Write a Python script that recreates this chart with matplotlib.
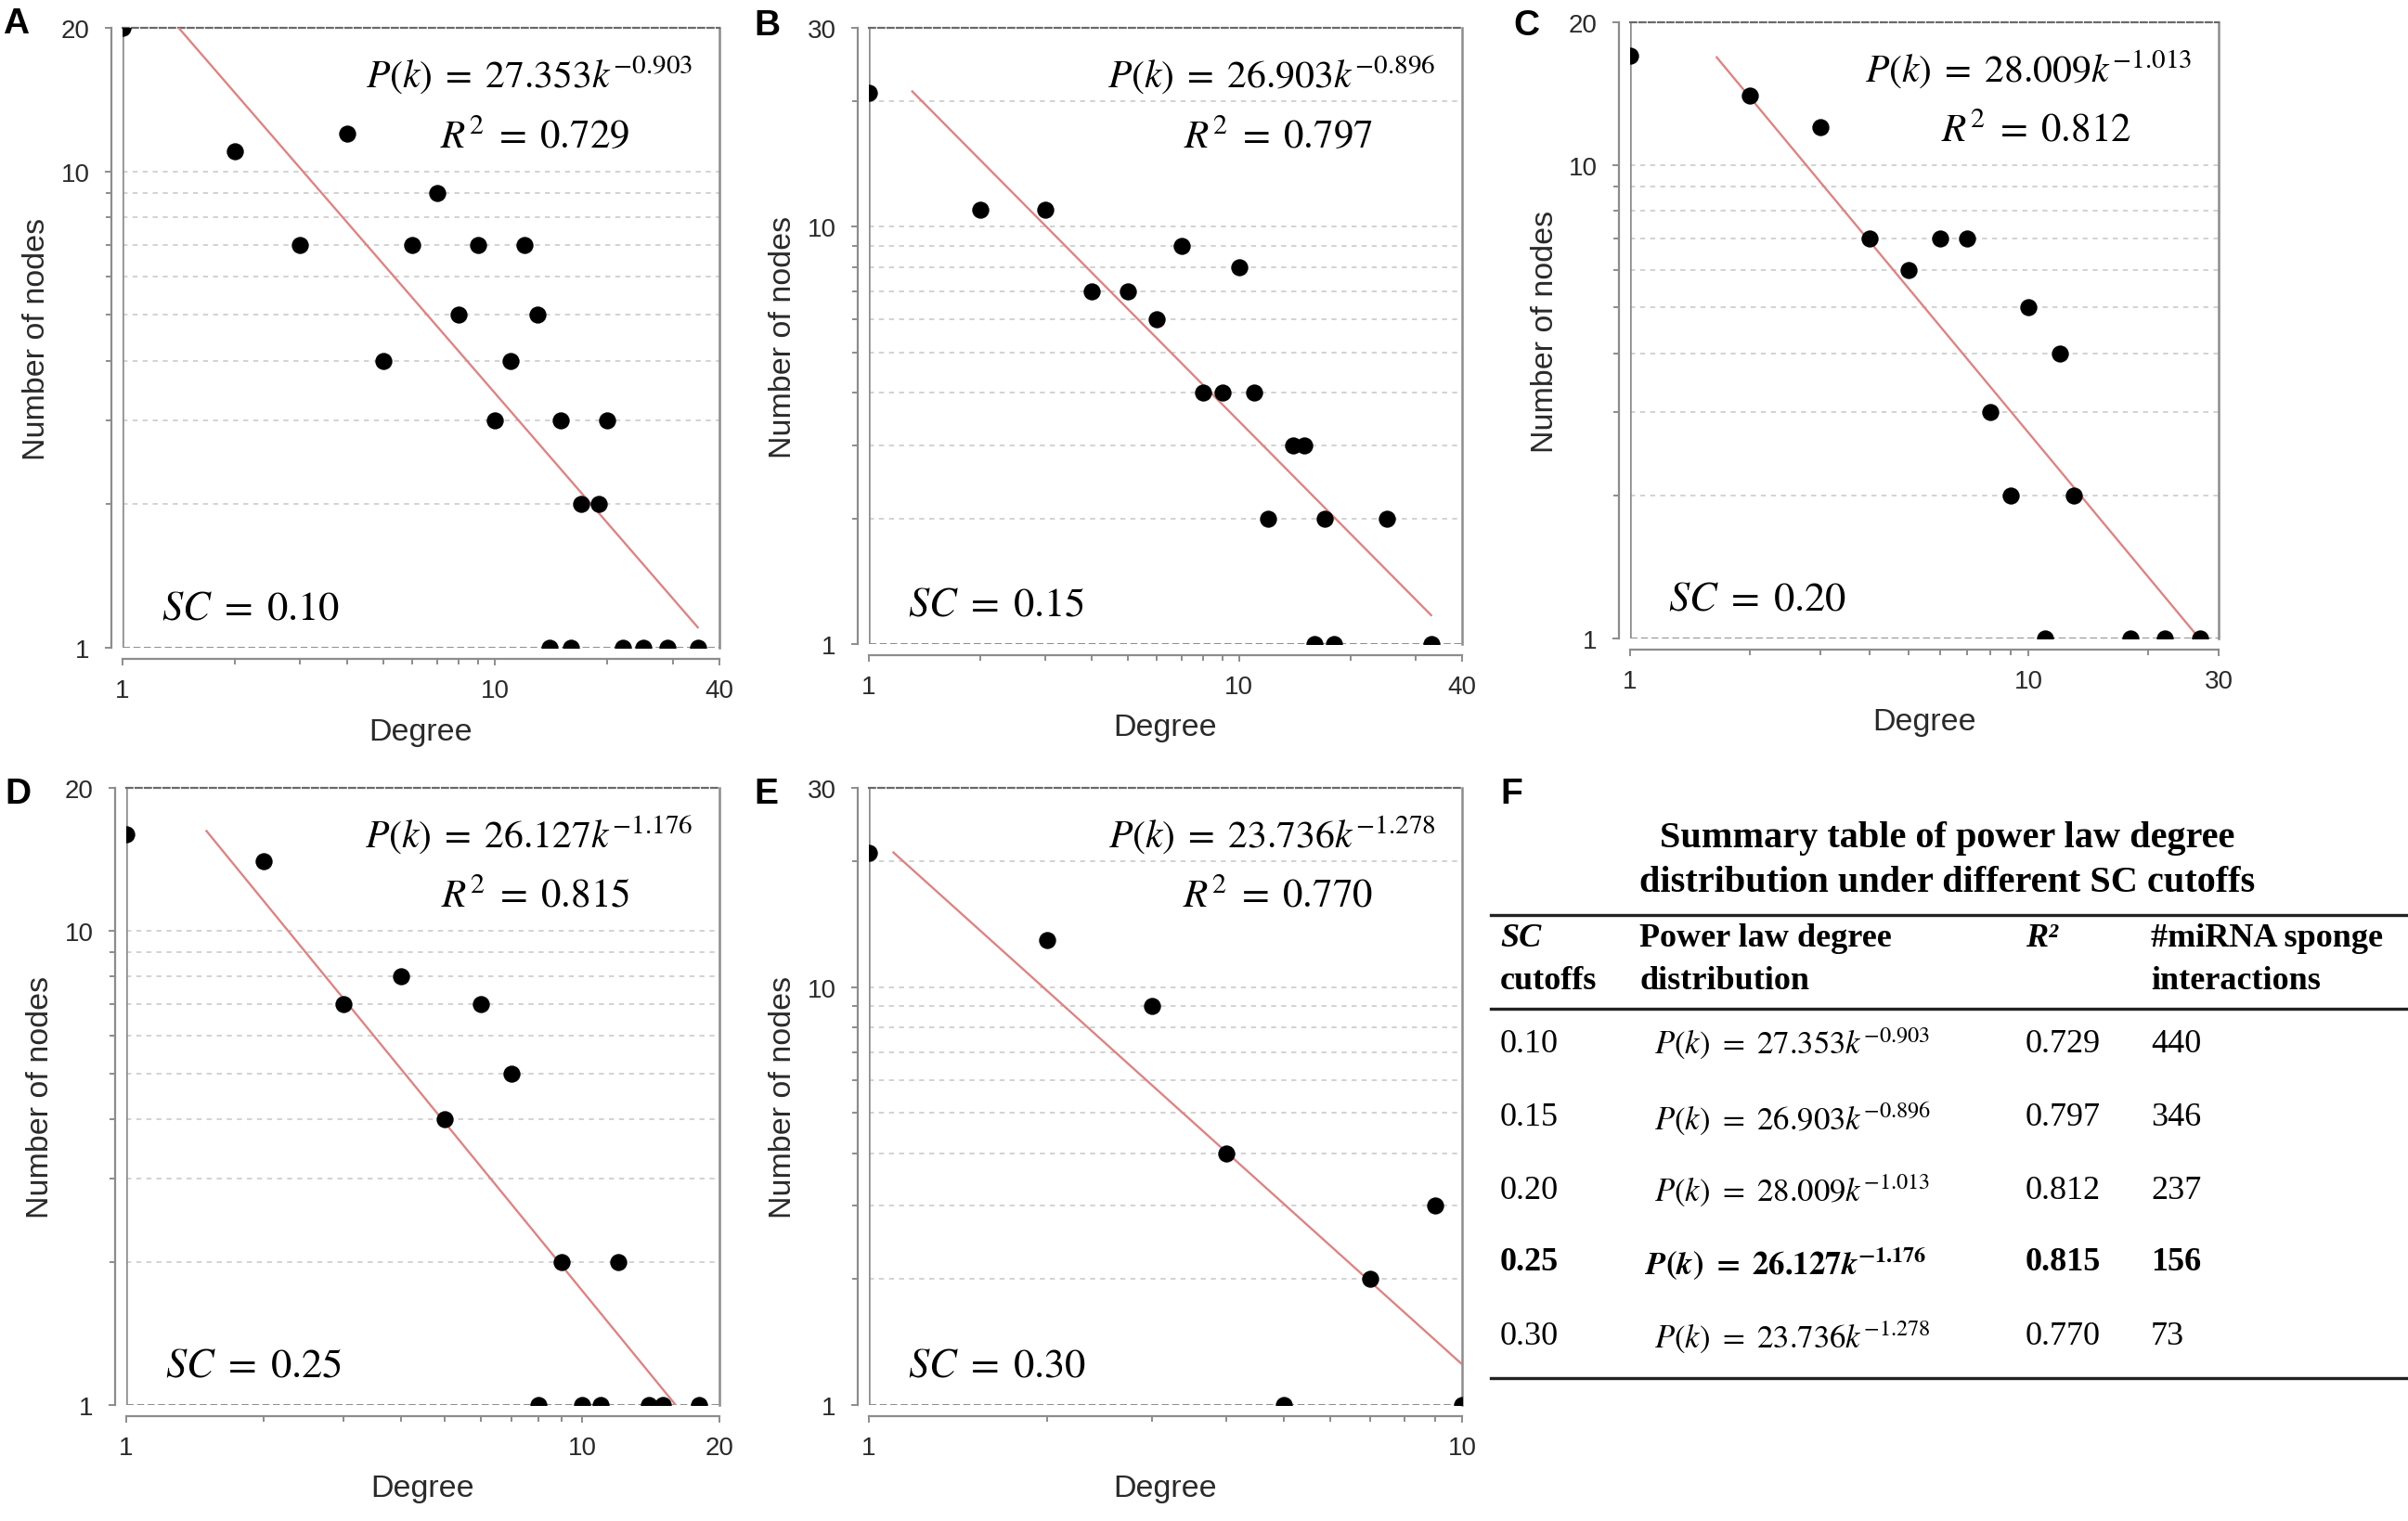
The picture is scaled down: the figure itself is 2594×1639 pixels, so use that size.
import numpy as np
import matplotlib
matplotlib.use('Agg')
import matplotlib.pyplot as plt
from matplotlib.ticker import FixedLocator, NullFormatter
from matplotlib.lines import Line2D

plt.rcParams['font.family'] = ['Liberation Sans', 'DejaVu Sans']
plt.rcParams['mathtext.fontset'] = 'stix'

W, H = 2594, 1640

# degree distributions for each SC cutoff
sc_labels = ['0.10', '0.15', '0.20', '0.25', '0.30']
deg_A = [1, 2, 3, 4, 5, 6, 7, 8, 9, 10, 11, 12, 13, 14, 15, 16, 17, 19, 20, 22, 25, 29, 35]
cnt_A = [20, 11, 7, 12, 4, 7, 9, 5, 7, 3, 4, 7, 5, 1, 3, 1, 2, 2, 3, 1, 1, 1, 1]
deg_B = [1, 2, 3, 4, 5, 6, 7, 8, 9, 10, 11, 12, 14, 15, 16, 17, 18, 25, 33]
cnt_B = [21, 11, 11, 7, 7, 6, 9, 4, 4, 8, 4, 2, 3, 3, 1, 2, 1, 2, 1]
deg_C = [1, 2, 3, 4, 5, 6, 7, 8, 9, 10, 11, 12, 13, 18, 22, 27]
cnt_C = [17, 14, 12, 7, 6, 7, 7, 3, 2, 5, 1, 4, 2, 1, 1, 1]
deg_D = [1, 2, 3, 4, 5, 6, 7, 8, 9, 10, 11, 12, 14, 15, 18]
cnt_D = [16, 14, 7, 8, 4, 7, 5, 1, 2, 1, 1, 2, 1, 1, 1]
deg_E = [1, 2, 3, 4, 5, 7, 9, 10]
cnt_E = [21, 13, 9, 4, 1, 2, 3, 1]

# power law fits P(k) = a * k^b
fit_a = [27.353, 26.903, 28.009, 26.127, 23.736]
fit_b = [-0.903, -0.896, -1.013, -1.176, -1.278]
fit_r2 = ['0.729', '0.797', '0.812', '0.815', '0.770']
fit_kmin = [1.3, 1.31, 1.65, 1.5, 1.1]
n_interactions = ['440', '346', '237', '156', '73']

x_max = [40, 40, 30, 20, 10]
y_max = [20, 30, 20, 20, 30]

# axes boxes in pixels: left, top, right, bottom
boxes = [(132, 31, 775, 699), (936, 31, 1575, 695), (1756, 25, 2390, 689),
         (136, 850, 775, 1515), (936, 850, 1575, 1515)]
letters = [('A', 3, 8), ('B', 812, 10), ('C', 1630, 10), ('D', 5, 838), ('E', 812, 838)]

fig = plt.figure(figsize=(W / 100, H / 100), dpi=100)

datasets = [(deg_A, cnt_A), (deg_B, cnt_B), (deg_C, cnt_C), (deg_D, cnt_D), (deg_E, cnt_E)]
grey = '#8c8c8c'

for i, (deg, cnt) in enumerate(datasets):
    l, t, r, b = boxes[i]
    ax = fig.add_axes([l / W, 1 - b / H, (r - l) / W, (b - t) / H])
    ax.set_xscale('log')
    ax.set_yscale('log')
    ax.set_xlim(1, x_max[i])
    ax.set_ylim(1, y_max[i])

    xmaj = [1, 10, x_max[i]] if x_max[i] > 10 else [1, 10]
    xmin = [v for v in [2, 3, 4, 5, 6, 7, 8, 9, 20, 30] if v < x_max[i]]
    ymaj = [1, 10, y_max[i]]
    ymin = [v for v in [2, 3, 4, 5, 6, 7, 8, 9, 20] if v < y_max[i]]
    ax.xaxis.set_major_locator(FixedLocator(xmaj))
    ax.xaxis.set_minor_locator(FixedLocator(xmin))
    ax.yaxis.set_major_locator(FixedLocator(ymaj))
    ax.yaxis.set_minor_locator(FixedLocator(ymin))
    ax.set_xticklabels([str(v) for v in xmaj])
    ax.set_yticklabels([str(v) for v in ymaj])
    ax.xaxis.set_minor_formatter(NullFormatter())
    ax.yaxis.set_minor_formatter(NullFormatter())

    for v in ymin + [10]:
        ax.axhline(v, color='#cfcfcf', lw=1.3, ls=(0, (3, 3)), zorder=0)
    ax.axhline(1, color='#6a6a6a', lw=1.8, ls=(0, (3, 1.5)), zorder=1)
    ax.axvline(1, color=grey, lw=1.8, zorder=1)

    for side in ['left', 'bottom']:
        ax.spines[side].set_position(('outward', 8.5))
        ax.spines[side].set_color(grey)
        ax.spines[side].set_linewidth(1.6)
    ax.spines['top'].set_color('#6a6a6a')
    ax.spines['top'].set_linestyle((0, (3, 1.5)))
    ax.spines['top'].set_linewidth(1.6)
    ax.spines['right'].set_color(grey)
    ax.spines['right'].set_linewidth(1.8)

    ax.tick_params(which='both', direction='out', color=grey, width=1.4, labelsize=20,
                   labelcolor='#2a2a2a')
    ax.tick_params(which='major', length=5)
    ax.tick_params(which='minor', length=4)
    ax.tick_params(axis='x', which='major', pad=10)
    ax.tick_params(axis='y', which='major', pad=12)

    ax.set_xlabel('Degree', fontsize=24.5, color='#2a2a2a')
    ax.set_ylabel('Number of nodes', fontsize=24.5, color='#2a2a2a')
    ax.xaxis.set_label_coords(0.5, -0.112)
    ax.yaxis.set_label_coords(-0.12, 0.5)

    ax.scatter(deg, cnt, s=175, color='black', zorder=4, clip_on=True, linewidths=0)
    k = np.linspace(fit_kmin[i], max(deg), 200)
    ax.plot(k, fit_a[i] * k ** fit_b[i], color='#dc8484', lw=1.7, zorder=3)

    ax.text(0.955, 0.925, r'$P(k)\;=\;%.3fk^{%.3f}$' % (fit_a[i], fit_b[i]),
            transform=ax.transAxes, fontsize=30, ha='right', va='center')
    ax.text(0.69, 0.825, r'$R^2\;=\;%s$' % fit_r2[i],
            transform=ax.transAxes, fontsize=31, ha='center', va='center')
    ax.text(0.065, 0.065, r'$SC\;=\;%s$' % sc_labels[i],
            transform=ax.transAxes, fontsize=32, ha='left', va='center')

    name, lx, ly = letters[i]
    fig.text(lx / W, 1 - ly / H, name, fontsize=28, fontweight='bold', ha='left', va='top')

# panel F: summary table
fig.text(1616 / W, 1 - 838 / H, 'F', fontsize=28, fontweight='bold', ha='left', va='top')

serif = ['Liberation Serif', 'DejaVu Serif']


def ftext(x, y, s, **kw):
    kw.setdefault('family', serif)
    kw.setdefault('fontsize', 26)
    fig.text(x / W, 1 - y / H, s, va='center', **kw)


ftext(2098, 903, 'Summary table of power law degree', ha='center', fontweight='bold', fontsize=29)
ftext(2098, 952, 'distribution under different SC cutoffs', ha='center', fontweight='bold', fontsize=29)

for y in [987, 1088, 1486]:
    fig.add_artist(Line2D([1606 / W, 1.0], [1 - y / H, 1 - y / H], color='#222222', lw=2.4))

ftext(1616, 1012, 'SC', fontweight='bold', style='italic')
ftext(1616, 1057, 'cutoffs', fontweight='bold')
ftext(1766, 1012, 'Power law degree', fontweight='bold')
ftext(1766, 1057, 'distribution', fontweight='bold')
ftext(2182, 1012, 'R\u00b2', fontweight='bold', style='italic')
ftext(2317, 1012, '#miRNA sponge', fontweight='bold')
ftext(2317, 1057, 'interactions', fontweight='bold')

row_y = [1125, 1205, 1283, 1361, 1441]
for i, y in enumerate(row_y):
    bold = (i == 3)
    w = 'bold' if bold else 'normal'
    ftext(1616, y, sc_labels[i], fontweight=w)
    if bold:
        f = (r'$\mathbfit{P}\mathbf{(}\mathbfit{k}\mathbf{)\ =\ %.3f}\mathbfit{k}^{\mathbf{%.3f}}$'
             % (fit_a[i], fit_b[i]))
        ftext(1772, y, f, fontsize=25)
    else:
        ftext(1782, y, r'$P(k)\ =\ %.3fk^{%.3f}$' % (fit_a[i], fit_b[i]), fontsize=25)
    ftext(2182, y, fit_r2[i], fontweight=w)
    ftext(2317, y, n_interactions[i], fontweight=w)

fig.savefig('out.png', dpi=100)
